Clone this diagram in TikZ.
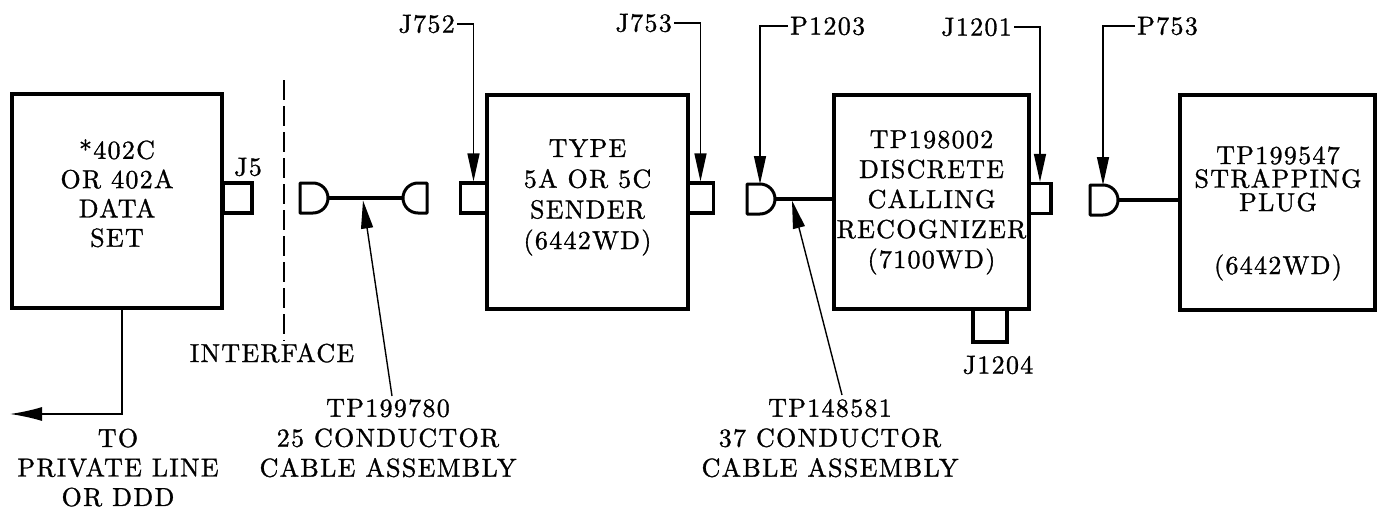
\documentclass[tikz,border=0pt]{standalone}
\usepackage{fontspec}
\setmainfont{lmroman10-regular}[Extension=.otf,LetterSpace=5,FakeBold=1.1]
\usetikzlibrary{arrows.meta,calc}
\tikzset{
  plugR/.pic={\draw[plugline] (0,-15) -- (13,-15) .. controls (21.28,-15) and (28,-8.28) .. (28,0) .. controls (28,8.28) and (21.28,15) .. (13,15) -- (0,15) -- cycle;
    \coordinate (-round) at (28,0); \coordinate (-top) at (13,-15);},
  plugL/.pic={\draw[plugline] (0,-15) -- (-9,-15) .. controls (-17.28,-15) and (-24,-8.28) .. (-24,0) .. controls (-24,8.28) and (-17.28,15) .. (-9,15) -- (0,15) -- cycle;
    \coordinate (-round) at (-24,0); \coordinate (-top) at (-9,-15);}
}
\begin{document}
\begin{tikzpicture}[x=1pt,y=-1pt,
  blk/.style={draw,line width=3.2pt,inner sep=0pt},
  jackbox/.style={draw,line width=3.2pt,inner sep=0pt,minimum height=30pt},
  plugline/.style={line width=3pt,line join=round},
  cable/.style={line width=3.1pt},
  leader/.style={line width=1.4pt,-{Triangle[length=28pt,width=12pt]}},
  toarrow/.style={line width=1.5pt,-{Latex[length=32pt,width=14pt]}},
  ifline/.style={line width=1.7pt,dash pattern=on 20pt off 6pt},
  tx/.style={align=center,inner sep=0pt,font=\fontsize{26}{#1}\selectfont},
  tx/.default=30,
  lab/.style={inner sep=2pt,font=\fontsize{26}{30}\selectfont}
]
\useasboundingbox (0,0) rectangle (1377,512);
% main boxes
\node[blk,minimum width=210pt,minimum height=214pt] (b1) at (117,201) {};
\node[blk,minimum width=201pt,minimum height=214pt] (b2) at (587.5,202) {};
\node[blk,minimum width=195pt,minimum height=214pt] (b3) at (931.5,202) {};
\node[blk,minimum width=195pt,minimum height=215pt] (b4) at (1277.5,202.5) {};
% box texts
\node[tx=29.3] (t1) at (117,193.3) {*402C\\OR 402A\\DATA\\SET};
\node[tx=30.7] (t2) at (587.5,197.4) {TYPE\\5A OR 5C\\SENDER\\(6442WD)};
\node[tx=30] (t3) at (931.5,202.4) {TP198002\\DISCRETE\\CALLING\\RECOGNIZER\\(7100WD)};
\node[tx=23.5] (t4) at (1278,213.4) {TP199547\\STRAPPING\\PLUG\\[39.5pt](6442WD)};
% jacks
\node[jackbox,minimum width=29pt] (j5) at (237.5,198) {};
\node[jackbox,minimum width=26pt] (j752) at (473.5,198) {};
\node[jackbox,minimum width=26pt] (j753) at (700.5,198) {};
\node[jackbox,minimum width=22pt] (j1201) at (1040,198.5) {};
\node[jackbox,minimum width=34pt,minimum height=33pt] (j1204) at (990,325.5) {};
% labels
\node[lab] (lj5) at (248,167) {J5};
\node[lab,anchor=east] (lj752) at (457,24) {J752};
\node[lab,anchor=east] (lj753) at (674,23) {J753};
\node[lab,anchor=east] (lj1201) at (1014,27) {J1201};
\node[lab,anchor=west] (lp1203) at (788,26) {P1203};
\node[lab,anchor=west] (lp753) at (1135,26) {P753};
\node[lab] (lj1204) at (998,365) {J1204};
\node[lab] (lif) at (272,353) {INTERFACE};
\node[tx=29.5] (lto) at (118,467.6) {TO\\PRIVATE LINE\\OR DDD};
\node[tx=30] (lc1) at (388,438.1) {TP199780\\25 CONDUCTOR\\CABLE ASSEMBLY};
\node[tx=30] (lc2) at (830,438.1) {TP148581\\37 CONDUCTOR\\CABLE ASSEMBLY};
% plugs
\pic (pa) at (300,198) {plugR};
\pic (pb) at (427,198) {plugL};
\pic (pc) at (747,199) {plugR};
\pic (pd) at (1090,200) {plugR};
% cables
\draw[cable] (pa-round) -- (pb-round);
\draw[cable] (pc-round) -- (pc-round -| b3.west);
\draw[cable] (pd-round) -- (pd-round -| b4.west);
% cable pointers
\coordinate (c1tip) at (363,200.5);
\coordinate (c1src) at (392,396);
\coordinate (c2tip) at (792,200.5);
\coordinate (c2src) at (842,395);
\draw[leader] (c1src) -- (c1tip);
\draw[leader] (c2src) -- (c2tip);
% connector leaders
\draw[leader] (lj752.east) -| (j752.north);
\draw[leader] (lj753.east) -| (j753.north);
\draw[leader] (lj1201.east) -| (j1201.north);
\draw[leader] (lp1203.west) -| (pc-top);
\draw[leader] (lp753.west) -| (pd-top);
% interface
\coordinate (iftop) at (284,80);
\draw[ifline] (iftop) -- (iftop |- lif.north);
% output line
\coordinate (toend) at (10,414);
\draw[toarrow] ($(b1.south)+(5,0)$) |- (toend);
\end{tikzpicture}
\end{document}
